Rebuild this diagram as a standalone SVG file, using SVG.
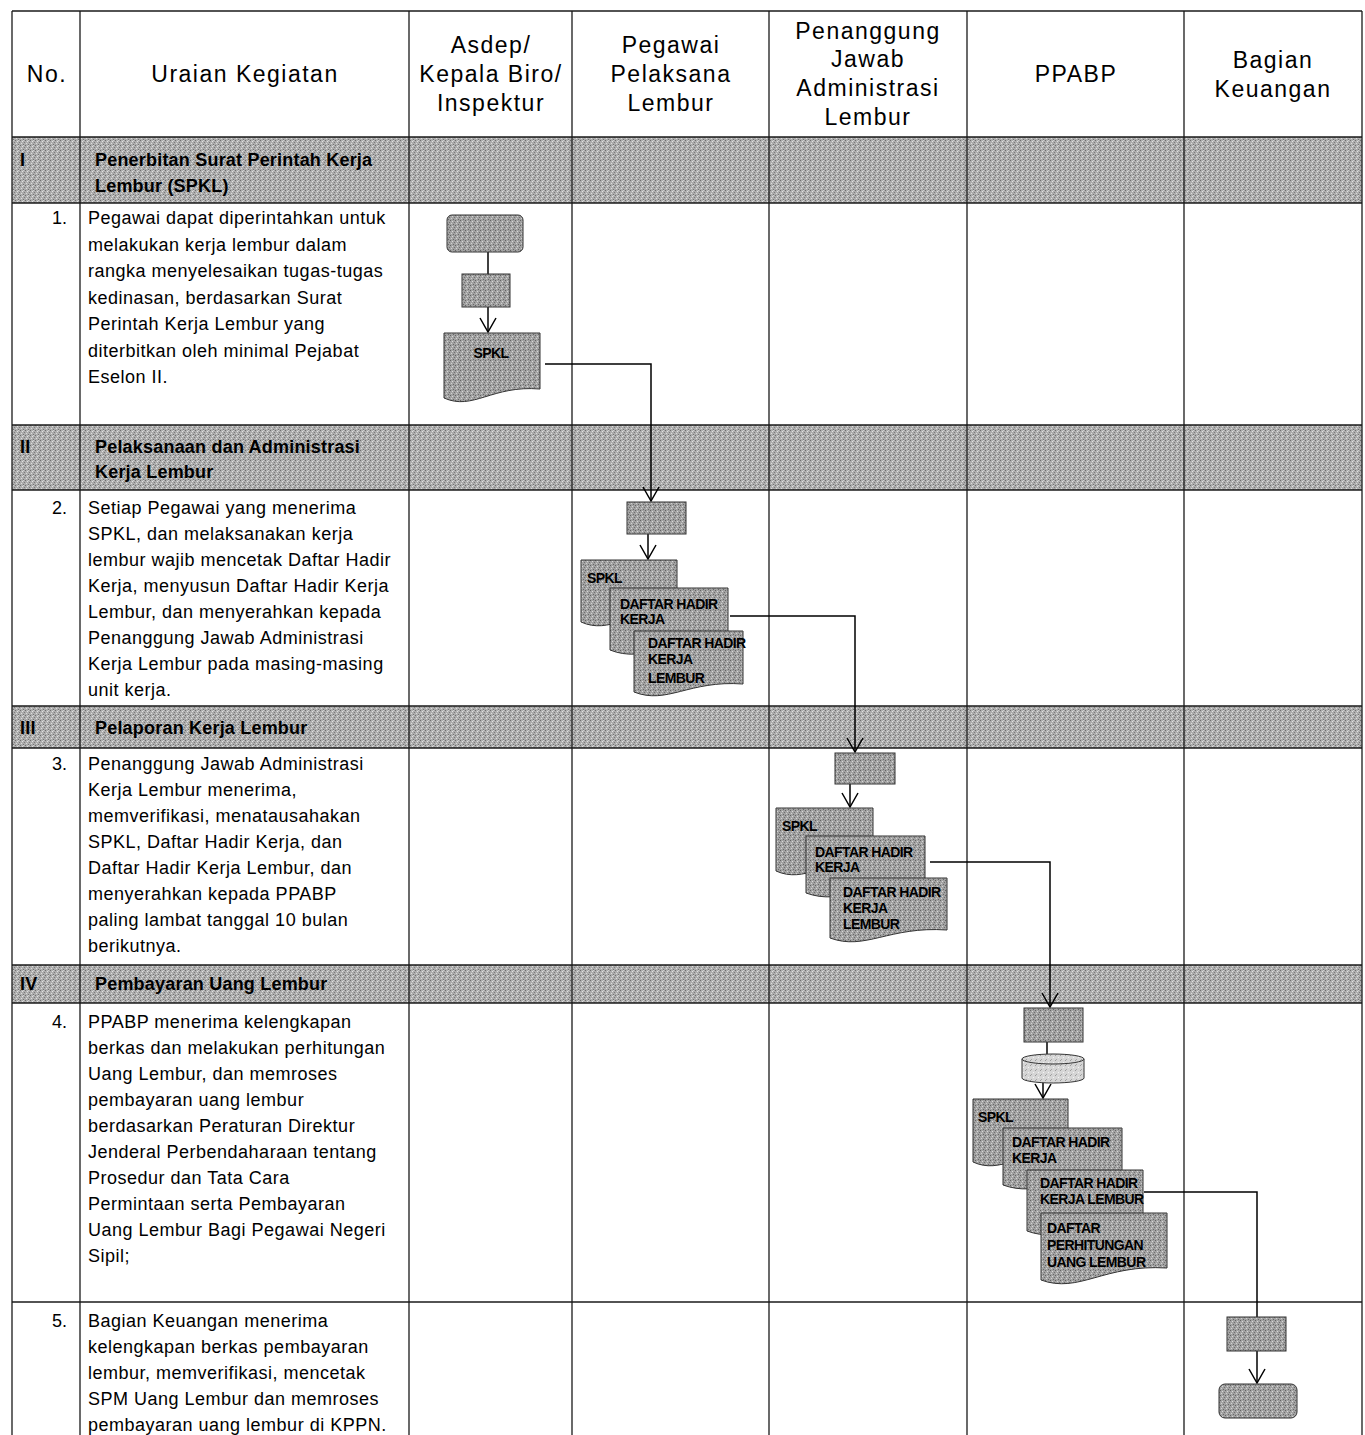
<svg xmlns="http://www.w3.org/2000/svg" width="1365" height="1435" viewBox="0 0 1365 1435">
<defs>
<pattern id="texBand" width="5" height="5" patternUnits="userSpaceOnUse">
<rect width="5" height="5" fill="#adadad"/>
<rect x="0" y="0" width="1" height="1" fill="#6e6e6e"/>
<rect x="2" y="1" width="1" height="1" fill="#e2e2e2"/>
<rect x="4" y="2" width="1" height="1" fill="#7a7a7a"/>
<rect x="1" y="3" width="1" height="1" fill="#dcdcdc"/>
<rect x="3" y="4" width="1" height="1" fill="#737373"/>
<rect x="3" y="0" width="1" height="1" fill="#cfcfcf"/>
</pattern>
<pattern id="texShape" width="5" height="5" patternUnits="userSpaceOnUse">
<rect width="5" height="5" fill="#a2a2a2"/>
<rect x="0" y="0" width="1" height="1" fill="#636363"/>
<rect x="2" y="1" width="1" height="1" fill="#d8d8d8"/>
<rect x="4" y="2" width="1" height="1" fill="#6e6e6e"/>
<rect x="1" y="3" width="1" height="1" fill="#d0d0d0"/>
<rect x="3" y="4" width="1" height="1" fill="#686868"/>
</pattern>
<pattern id="texLight" width="5" height="5" patternUnits="userSpaceOnUse">
<rect width="5" height="5" fill="#d6d6d6"/>
<rect x="0" y="0" width="1" height="1" fill="#9a9a9a"/>
<rect x="3" y="2" width="1" height="1" fill="#f4f4f4"/>
<rect x="1" y="4" width="1" height="1" fill="#a4a4a4"/>
</pattern>
<marker id="arr" viewBox="0 0 16 18" refX="15" refY="9" markerWidth="16" markerHeight="18" markerUnits="userSpaceOnUse" orient="auto">
<path d="M1,1 L15,9 L1,17" fill="none" stroke="#000" stroke-width="1.5"/>
</marker>
<style>
text{font-family:"Liberation Sans",Arial,sans-serif;fill:#000}
.hd{font-size:23px;letter-spacing:1.5px;text-anchor:middle}
.bd{font-size:18px;letter-spacing:0.5px}
.no{font-size:18px;text-anchor:end}
.sec{font-size:18px;font-weight:bold;letter-spacing:0.2px}
.dl{font-size:14px;font-weight:bold;letter-spacing:-0.6px}
.band{fill:url(#texBand)}
.grid line{stroke:#1a1a1a;stroke-width:1.3}
.sh{fill:url(#texShape);stroke:#333;stroke-width:1}
.cyl{fill:url(#texLight);stroke:#333;stroke-width:1}
.cn{fill:none;stroke:#000;stroke-width:1.5}
</style>
</defs>
<rect width="1365" height="1435" fill="#fff"/>

<g id="bands">
<rect class="band" x="12" y="137" width="1350" height="66"/>
<rect class="band" x="12" y="425" width="1350" height="65"/>
<rect class="band" x="12" y="706" width="1350" height="42"/>
<rect class="band" x="12" y="965" width="1350" height="38"/>
</g>

<g id="grid" class="grid">
<line x1="12" y1="11" x2="1362" y2="11"/>
<line x1="12" y1="137" x2="1362" y2="137"/>
<line x1="12" y1="203" x2="1362" y2="203"/>
<line x1="12" y1="425" x2="1362" y2="425"/>
<line x1="12" y1="490" x2="1362" y2="490"/>
<line x1="12" y1="706" x2="1362" y2="706"/>
<line x1="12" y1="748" x2="1362" y2="748"/>
<line x1="12" y1="965" x2="1362" y2="965"/>
<line x1="12" y1="1003" x2="1362" y2="1003"/>
<line x1="12" y1="1302" x2="1362" y2="1302"/>
<line x1="12" y1="11" x2="12" y2="1435"/>
<line x1="80" y1="11" x2="80" y2="1435"/>
<line x1="409" y1="11" x2="409" y2="1435"/>
<line x1="572" y1="11" x2="572" y2="1435"/>
<line x1="769" y1="11" x2="769" y2="1435"/>
<line x1="967" y1="11" x2="967" y2="1435"/>
<line x1="1184" y1="11" x2="1184" y2="1435"/>
<line x1="1362" y1="11" x2="1362" y2="1435"/>
</g>

<g id="header">
<text class="hd" x="47" y="82">No.</text>
<text class="hd" x="245" y="82">Uraian Kegiatan</text>
<text class="hd" x="491"><tspan x="491" y="53">Asdep/</tspan><tspan x="491" y="82">Kepala Biro/</tspan><tspan x="491" y="111">Inspektur</tspan></text>
<text class="hd" x="671"><tspan x="671" y="53">Pegawai</tspan><tspan x="671" y="82">Pelaksana</tspan><tspan x="671" y="111">Lembur</tspan></text>
<text class="hd" x="868"><tspan x="868" y="39">Penanggung</tspan><tspan x="868" y="67">Jawab</tspan><tspan x="868" y="96">Administrasi</tspan><tspan x="868" y="125">Lembur</tspan></text>
<text class="hd" x="1076" y="82">PPABP</text>
<text class="hd" x="1273"><tspan x="1273" y="68">Bagian</tspan><tspan x="1273" y="97">Keuangan</tspan></text>
</g>

<g id="sections">
<text class="sec" x="20" y="166">I</text>
<text class="sec"><tspan x="95" y="166">Penerbitan Surat Perintah Kerja</tspan><tspan x="95" y="192">Lembur (SPKL)</tspan></text>
<text class="sec" x="20" y="453">II</text>
<text class="sec"><tspan x="95" y="453">Pelaksanaan dan Administrasi</tspan><tspan x="95" y="478">Kerja Lembur</tspan></text>
<text class="sec" x="20" y="734">III</text>
<text class="sec" x="95" y="734">Pelaporan Kerja Lembur</text>
<text class="sec" x="20" y="990">IV</text>
<text class="sec" x="95" y="990">Pembayaran Uang Lembur</text>
</g>

<g id="activities">
<text class="no" x="67" y="224">1.</text>
<text class="bd"><tspan x="88" y="224">Pegawai dapat diperintahkan untuk</tspan><tspan x="88" y="250.5">melakukan kerja lembur dalam</tspan><tspan x="88" y="277">rangka menyelesaikan tugas-tugas</tspan><tspan x="88" y="303.5">kedinasan, berdasarkan Surat</tspan><tspan x="88" y="330">Perintah Kerja Lembur yang</tspan><tspan x="88" y="356.5">diterbitkan oleh minimal Pejabat</tspan><tspan x="88" y="383">Eselon II.</tspan></text>
<text class="no" x="67" y="514">2.</text>
<text class="bd"><tspan x="88" y="514">Setiap Pegawai yang menerima</tspan><tspan x="88" y="540">SPKL, dan melaksanakan kerja</tspan><tspan x="88" y="566">lembur wajib mencetak Daftar Hadir</tspan><tspan x="88" y="592">Kerja, menyusun Daftar Hadir Kerja</tspan><tspan x="88" y="618">Lembur, dan menyerahkan kepada</tspan><tspan x="88" y="644">Penanggung Jawab Administrasi</tspan><tspan x="88" y="670">Kerja Lembur pada masing-masing</tspan><tspan x="88" y="696">unit kerja.</tspan></text>
<text class="no" x="67" y="770">3.</text>
<text class="bd"><tspan x="88" y="770">Penanggung Jawab Administrasi</tspan><tspan x="88" y="796">Kerja Lembur menerima,</tspan><tspan x="88" y="822">memverifikasi, menatausahakan</tspan><tspan x="88" y="848">SPKL, Daftar Hadir Kerja, dan</tspan><tspan x="88" y="874">Daftar Hadir Kerja Lembur, dan</tspan><tspan x="88" y="900">menyerahkan kepada PPABP</tspan><tspan x="88" y="926">paling lambat tanggal 10 bulan</tspan><tspan x="88" y="952">berikutnya.</tspan></text>
<text class="no" x="67" y="1028">4.</text>
<text class="bd"><tspan x="88" y="1028">PPABP menerima kelengkapan</tspan><tspan x="88" y="1054">berkas dan melakukan perhitungan</tspan><tspan x="88" y="1080">Uang Lembur, dan memroses</tspan><tspan x="88" y="1106">pembayaran uang lembur</tspan><tspan x="88" y="1132">berdasarkan Peraturan Direktur</tspan><tspan x="88" y="1158">Jenderal Perbendaharaan tentang</tspan><tspan x="88" y="1184">Prosedur dan Tata Cara</tspan><tspan x="88" y="1210">Permintaan serta Pembayaran</tspan><tspan x="88" y="1236">Uang Lembur Bagi Pegawai Negeri</tspan><tspan x="88" y="1262">Sipil;</tspan></text>
<text class="no" x="67" y="1327">5.</text>
<text class="bd"><tspan x="88" y="1327">Bagian Keuangan menerima</tspan><tspan x="88" y="1353">kelengkapan berkas pembayaran</tspan><tspan x="88" y="1379">lembur, memverifikasi, mencetak</tspan><tspan x="88" y="1405">SPM Uang Lembur dan memroses</tspan><tspan x="88" y="1431">pembayaran uang lembur di KPPN.</tspan></text>
</g>

<g id="connectors">
<line class="cn" x1="488" y1="252" x2="488" y2="274"/>
<line class="cn" x1="488" y1="307" x2="488" y2="332" marker-end="url(#arr)"/>
<polyline class="cn" points="545,364 651,364 651,501" marker-end="url(#arr)"/>
<line class="cn" x1="648" y1="534" x2="648" y2="559" marker-end="url(#arr)"/>
<polyline class="cn" points="730,616 855,616 855,752" marker-end="url(#arr)"/>
<line class="cn" x1="850" y1="784" x2="850" y2="807" marker-end="url(#arr)"/>
<polyline class="cn" points="930,862 1050,862 1050,1007" marker-end="url(#arr)"/>
<line class="cn" x1="1047" y1="1042" x2="1047" y2="1054"/>
<line class="cn" x1="1043" y1="1083" x2="1043" y2="1098" marker-end="url(#arr)"/>
<polyline class="cn" points="1144,1192 1257,1192 1257,1317"/>
<line class="cn" x1="1257" y1="1351" x2="1257" y2="1383" marker-end="url(#arr)"/>
</g>

<g id="n1-start"><rect class="sh" x="447" y="215" width="76" height="37" rx="5"/></g>
<g id="n1-process"><rect class="sh" x="462" y="274" width="48" height="33"/></g>
<g id="n1-spkl">
<path class="sh" d="M444,333 H540 V389 C492,385 473,411 444,398 Z"/>
<text class="dl" x="491" y="358" text-anchor="middle">SPKL</text>
</g>

<g id="n2-process"><rect class="sh" x="627" y="502" width="59" height="32"/></g>
<g id="n2-docs">
<path class="sh" d="M581,560 H677 V614 C629,610 610,635 581,622 Z"/>
<text class="dl" x="587" y="583">SPKL</text>
<path class="sh" d="M610,588 H728 V642 C669,638 645,664 610,650 Z"/>
<text class="dl"><tspan x="620" y="609">DAFTAR HADIR</tspan><tspan x="620" y="624">KERJA</tspan></text>
<path class="sh" d="M634,631 H743 V684 C689,680 667,705 634,692 Z"/>
<text class="dl"><tspan x="648" y="648">DAFTAR HADIR</tspan><tspan x="648" y="664">KERJA</tspan><tspan x="648" y="683">LEMBUR</tspan></text>
</g>

<g id="n3-process"><rect class="sh" x="835" y="753" width="60" height="31"/></g>
<g id="n3-docs">
<path class="sh" d="M776,808 H873 V863 C825,859 805,884 776,871 Z"/>
<text class="dl" x="782" y="831">SPKL</text>
<path class="sh" d="M806,836 H925 V886 C866,882 842,906 806,893 Z"/>
<text class="dl"><tspan x="815" y="857">DAFTAR HADIR</tspan><tspan x="815" y="872">KERJA</tspan></text>
<path class="sh" d="M830,878 H947 V930 C889,926 865,951 830,938 Z"/>
<text class="dl"><tspan x="843" y="897">DAFTAR HADIR</tspan><tspan x="843" y="913">KERJA</tspan><tspan x="843" y="929">LEMBUR</tspan></text>
</g>

<g id="n4-process"><rect class="sh" x="1024" y="1008" width="59" height="34"/></g>
<g id="n4-database">
<path class="cyl" d="M1022,1059 V1078 A31,5 0 0 0 1084,1078 V1059"/>
<ellipse class="cyl" cx="1053" cy="1059" rx="31" ry="5"/>
</g>
<g id="n4-docs">
<path class="sh" d="M973,1099 H1068 V1154 C1021,1150 1001,1175 973,1162 Z"/>
<text class="dl" x="978" y="1122">SPKL</text>
<path class="sh" d="M1003,1128 H1122 V1178 C1063,1174 1039,1198 1003,1185 Z"/>
<text class="dl"><tspan x="1012" y="1147">DAFTAR HADIR</tspan><tspan x="1012" y="1163">KERJA</tspan></text>
<path class="sh" d="M1027,1170 H1143 V1223 C1085,1219 1062,1244 1027,1231 Z"/>
<text class="dl"><tspan x="1040" y="1188">DAFTAR HADIR</tspan><tspan x="1040" y="1204">KERJA LEMBUR</tspan></text>
<path class="sh" d="M1041,1213 H1167 V1268 C1104,1264 1079,1294 1041,1280 Z"/>
<text class="dl"><tspan x="1047" y="1233">DAFTAR</tspan><tspan x="1047" y="1250">PERHITUNGAN</tspan><tspan x="1047" y="1267">UANG LEMBUR</tspan></text>
</g>

<g id="n5-process"><rect class="sh" x="1227" y="1317" width="59" height="34"/></g>
<g id="n5-end"><rect class="sh" x="1219" y="1384" width="78" height="34" rx="6"/></g>
</svg>
